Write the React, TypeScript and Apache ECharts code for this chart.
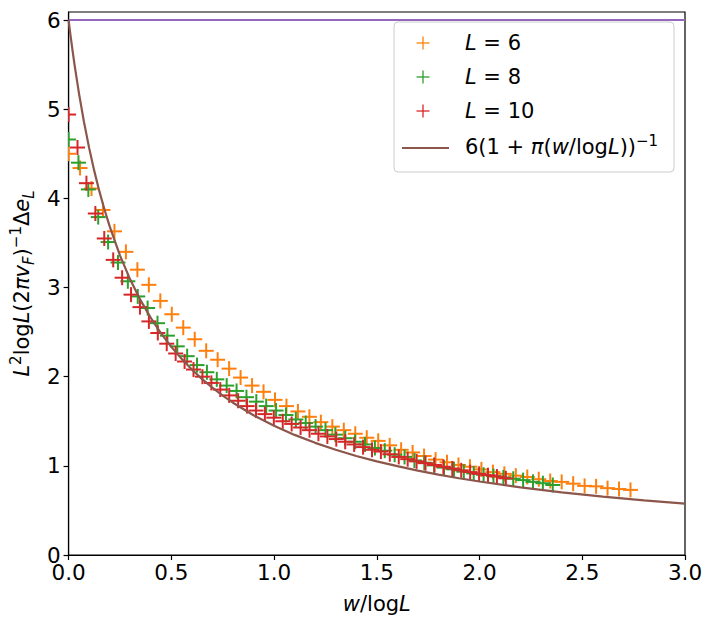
import React, { useEffect, useRef } from "react";
import * as echarts from "echarts";

const W_VALUES = [
  0, 0.1, 0.2, 0.3, 0.4, 0.5, 0.6, 0.7, 0.8, 0.9,
  1.0, 1.1, 1.2, 1.3, 1.4, 1.5, 1.6, 1.7, 1.8, 1.9,
  2.0, 2.1, 2.2, 2.3, 2.4, 2.5, 2.6, 2.7, 2.8, 2.9,
  3.0, 3.1, 3.2, 3.3, 3.4, 3.5, 3.6, 3.7, 3.8, 3.9,
  4.0, 4.1, 4.2, 4.3, 4.4, 4.5, 4.6, 4.7, 4.8, 4.9,
];

const L_SIZES = [6, 8, 10];

const Y_L6 = [
  4.5, 4.34, 4.11, 3.87, 3.63, 3.4, 3.2, 3.03, 2.85, 2.7,
  2.55, 2.42, 2.29, 2.19, 2.09, 1.99, 1.9, 1.83, 1.74, 1.67,
  1.61, 1.55, 1.49, 1.44, 1.4, 1.36, 1.315, 1.28, 1.23, 1.18,
  1.15, 1.11, 1.07, 1.04, 1.01, 0.99, 0.96, 0.93, 0.91, 0.89,
  0.875, 0.85, 0.83, 0.82, 0.8, 0.775, 0.77, 0.75, 0.74, 0.73,
];

const Y_L8 = [
  4.66, 4.4, 4.1, 3.79, 3.51, 3.28, 3.07, 2.9, 2.77, 2.6,
  2.46, 2.34, 2.23, 2.13, 2.05, 1.97, 1.9, 1.84, 1.77, 1.72,
  1.67, 1.62, 1.57, 1.52, 1.48, 1.44, 1.4, 1.35, 1.31, 1.27,
  1.24, 1.2, 1.17, 1.125, 1.1, 1.06, 1.035, 1.005, 0.98, 0.96,
  0.935, 0.915, 0.9, 0.885, 0.87, 0.855, 0.84, 0.82, 0.805, 0.785,
];

const Y_L10 = [
  4.94, 4.57, 4.17, 3.83, 3.55, 3.31, 3.11, 2.92, 2.78, 2.62,
  2.49, 2.37, 2.26, 2.17, 2.08, 2.0, 1.93, 1.855, 1.79, 1.73,
  1.67, 1.62, 1.58, 1.54, 1.5, 1.47, 1.43, 1.4, 1.36, 1.33,
  1.3, 1.27, 1.24, 1.21, 1.18, 1.16, 1.13, 1.1, 1.075, 1.05,
  1.03, 1.01, 0.99, 0.97, 0.95, 0.93, 0.91, 0.895, 0.88, 0.86,
];

const CURVE_X = [
  0, 0.01, 0.02, 0.03, 0.05, 0.075, 0.1, 0.125, 0.15, 0.175, 0.2, 0.25, 0.3,
  0.35, 0.4, 0.45, 0.5, 0.55, 0.6, 0.65, 0.7, 0.75, 0.8, 0.9, 1.0, 1.1, 1.2,
  1.3, 1.4, 1.5, 1.6, 1.7, 1.8, 1.9, 2.0, 2.2, 2.4, 2.6, 2.8, 3.0,
];
const CURVE_Y = [
  6.0, 5.817, 5.645, 5.483, 5.186, 4.856, 4.566, 4.308, 4.078, 3.872, 3.685,
  3.361, 3.089, 2.858, 2.659, 2.486, 2.334, 2.2, 2.08, 1.972, 1.876, 1.788,
  1.708, 1.568, 1.449, 1.347, 1.258, 1.18, 1.111, 1.05, 0.996, 0.946, 0.902,
  0.861, 0.824, 0.758, 0.703, 0.654, 0.612, 0.576,
];

const REF_X = [0, 3];
const REF_Y = [6, 6];

const X_TICKS = [0, 0.5, 1.0, 1.5, 2.0, 2.5, 3.0];
const Y_TICKS = [0, 1, 2, 3, 4, 5, 6];

const LEGEND_LABELS = ["L = 6", "L = 8", "L = 10"];

const COLORS = ["#ff7f0e", "#2ca02c", "#d62728"];
const CURVE_COLOR = "#8c564b";
const REF_COLOR = "#9467bd";
const FONT = "DejaVu Sans";

const richStyles = (size: number, small: number, lh: number) => ({
  n: { fontSize: size, fontFamily: FONT, color: "#000", lineHeight: lh },
  i: { fontSize: size, fontFamily: FONT, fontStyle: "italic", color: "#000", lineHeight: lh },
  sup: { fontSize: small, fontFamily: FONT, color: "#000", verticalAlign: "top" },
  subi: { fontSize: small, fontFamily: FONT, fontStyle: "italic", color: "#000", verticalAlign: "bottom" },
});

function plusSeries(name: string, L: number, ys: number[], color: string) {
  const data = ys.map((y, i) => [W_VALUES[i] / Math.log(L), y]);
  return {
    type: "custom",
    name,
    data,
    clip: true,
    z: 3,
    encode: { x: 0, y: 1 },
    itemStyle: { color },
    renderItem: (_params: any, api: any) => {
      const p = api.coord([api.value(0), api.value(1)]);
      const h = 7.5;
      return {
        type: "group",
        children: [
          { type: "line", shape: { x1: p[0] - h, y1: p[1], x2: p[0] + h, y2: p[1] }, style: { stroke: color, lineWidth: 2 } },
          { type: "line", shape: { x1: p[0], y1: p[1] - h, x2: p[0], y2: p[1] + h }, style: { stroke: color, lineWidth: 2 } },
        ],
      };
    },
  };
}

export default function App() {
  const ref = useRef<HTMLDivElement>(null);
  useEffect(() => {
    document.body.style.margin = "0";
    const chart = echarts.init(ref.current as HTMLDivElement, null, { renderer: "svg" });

    const legendX = 394;
    const legendY = 22;
    const rowY = [43, 77, 111, 147];
    const legendGraphics: any[] = [
      {
        type: "rect",
        z: 100,
        shape: { x: legendX, y: legendY, width: 280, height: 150, r: 4 },
        style: { fill: "rgba(255,255,255,0.8)", stroke: "#cccccc", lineWidth: 1 },
      },
    ];
    LEGEND_LABELS.forEach((lab, idx) => {
      const cx = 423;
      const cy = rowY[idx];
      const h = 6.5;
      legendGraphics.push(
        { type: "line", z: 101, shape: { x1: cx - h, y1: cy, x2: cx + h, y2: cy }, style: { stroke: COLORS[idx], lineWidth: 1.3 } },
        { type: "line", z: 101, shape: { x1: cx, y1: cy - h, x2: cx, y2: cy + h }, style: { stroke: COLORS[idx], lineWidth: 1.3 } },
        {
          type: "text",
          z: 101,
          x: 465,
          y: cy,
          style: {
            text: "{i|L}{n|" + lab.slice(1) + "}",
            rich: richStyles(21, 15, 26),
            align: "left",
            verticalAlign: "middle",
          },
        }
      );
    });
    legendGraphics.push(
      { type: "line", z: 101, shape: { x1: 402, y1: rowY[3] + 1, x2: 449, y2: rowY[3] + 1 }, style: { stroke: CURVE_COLOR, lineWidth: 2.2 } },
      {
        type: "text",
        z: 101,
        x: 465,
        y: rowY[3],
        style: {
          text: "{n|6(1 + }{i|π}{n|(}{i|w}{n|/log}{i|L}{n|))}{sup|−1}",
          rich: richStyles(21, 15, 28),
          align: "left",
          verticalAlign: "middle",
        },
      }
    );

    const yNameText =
      "{i|L}{sup|2}{n|log}{i|L}{n|(2}{i|π}{i|v}{subi|F}{n|)}{sup|−1}{n|Δ}{i|e}{subi|L}";

    const option: any = {
      animation: false,
      backgroundColor: "#ffffff",
      textStyle: { fontFamily: FONT },
      grid: {
        left: 64,
        top: 12,
        width: 621,
        height: 543,
        show: true,
        borderColor: "#000",
        borderWidth: 1.2,
        backgroundColor: "transparent",
      },
      xAxis: {
        type: "value",
        min: 0,
        max: 3,
        interval: 0.5,
        name: "{i|w}{n|/log}{i|L}",
        nameLocation: "middle",
        nameGap: 36,
        nameTextStyle: { rich: richStyles(21, 15, 26) },
        axisLine: { show: true, onZero: false, lineStyle: { color: "#000", width: 1.2 } },
        axisTick: { show: true, length: 5, lineStyle: { color: "#000", width: 1.2 }, customValues: X_TICKS },
        axisLabel: {
          fontSize: 21.5,
          color: "#000",
          margin: 6,
          fontFamily: FONT,
          customValues: X_TICKS,
          formatter: (v: number) => v.toFixed(1),
        },
        splitLine: { show: false },
      },
      yAxis: {
        type: "value",
        min: 0,
        max: 6.09,
        interval: 1,
        name: yNameText,
        nameLocation: "middle",
        nameRotate: 90,
        nameGap: 26,
        nameTextStyle: { rich: richStyles(21, 15, 28) },
        axisLine: { show: true, onZero: false, lineStyle: { color: "#000", width: 1.2 } },
        axisTick: { show: true, length: 5, lineStyle: { color: "#000", width: 1.2 }, customValues: Y_TICKS },
        axisLabel: {
          fontSize: 21.5,
          color: "#000",
          margin: 8,
          fontFamily: FONT,
          customValues: Y_TICKS,
          formatter: (v: number) => String(v),
        },
        splitLine: { show: false },
      },
      series: [
        {
          type: "line",
          name: "ref",
          data: REF_X.map((x, i) => [x, REF_Y[i]]),
          showSymbol: false,
          symbol: "none",
          lineStyle: { color: REF_COLOR, width: 2 },
          z: 2,
        },
        plusSeries("L = 6", L_SIZES[0], Y_L6, COLORS[0]),
        plusSeries("L = 8", L_SIZES[1], Y_L8, COLORS[1]),
        plusSeries("L = 10", L_SIZES[2], Y_L10, COLORS[2]),
        {
          type: "line",
          name: "6(1+π(w/logL))^-1",
          data: CURVE_X.map((x, i) => [x, CURVE_Y[i]]),
          showSymbol: false,
          symbol: "none",
          smooth: false,
          lineStyle: { color: CURVE_COLOR, width: 2.2 },
          z: 5,
        },
      ],
      graphic: { elements: legendGraphics },
    };

    chart.setOption(option);
    return () => chart.dispose();
  }, []);
  return <div ref={ref} style={{ width: 710, height: 625 }} />;
}
